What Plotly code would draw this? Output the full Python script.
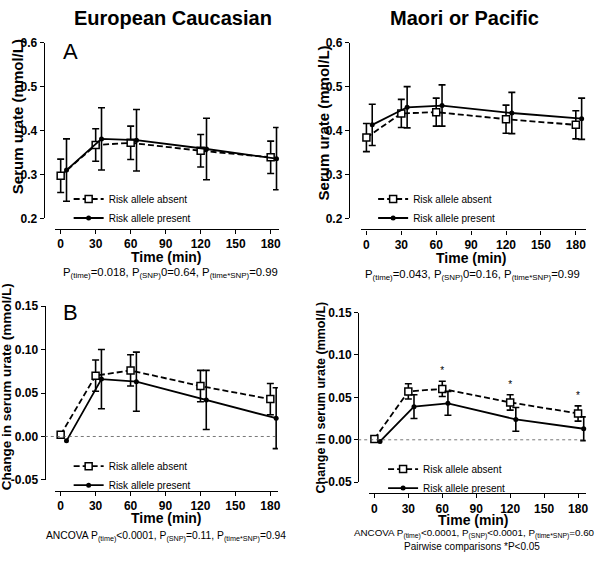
import numpy as np
import plotly.graph_objects as go

# temps de prélèvement (min)
times = [0, 30, 60, 120, 180]

# Panel A : urate sérique (mmol/L)
euro_absent = [0.297, 0.367, 0.372, 0.354, 0.339]
euro_absent_err = [0.038, 0.037, 0.038, 0.037, 0.037]
euro_present = [0.310, 0.381, 0.378, 0.358, 0.336]
euro_present_err = [0.071, 0.071, 0.070, 0.070, 0.071]

maori_absent = [0.384, 0.439, 0.442, 0.426, 0.413]
maori_absent_err = [0.032, 0.032, 0.032, 0.032, 0.032]
maori_present = [0.413, 0.453, 0.457, 0.440, 0.427]
maori_present_err = [0.047, 0.047, 0.047, 0.047, 0.047]

# Panel B : variation de l'urate sérique (mmol/L)
euro_absent_chg = [0.002, 0.070, 0.076, 0.058, 0.043]
euro_absent_chg_err = [np.nan, 0.018, 0.018, 0.018, 0.018]
euro_present_chg = [-0.005, 0.066, 0.063, 0.042, 0.021]
euro_present_chg_err = [np.nan, 0.034, 0.034, 0.034, 0.035]

maori_absent_chg = [0.001, 0.057, 0.060, 0.044, 0.031]
maori_absent_chg_err = [np.nan, 0.009, 0.009, 0.009, 0.009]
maori_present_chg = [-0.002, 0.039, 0.043, 0.024, 0.013]
maori_present_chg_err = [np.nan, 0.014, 0.014, 0.014, 0.014]

# comparaisons significatives (*)
star_times = [60, 120, 180]
star_y = [0.081, 0.064, 0.051]

a_ticks = [0.2, 0.3, 0.4, 0.5, 0.6]
a_ticktext = ["0.2", "0.3", "0.4", "0.5", "0.6"]
b_ticks = [-0.05, 0.0, 0.05, 0.10, 0.15]
b_ticktext = ["-0.05", "0.00", "0.05", "0.10", "0.15"]
x_ticks = [0, 30, 60, 90, 120, 150, 180]

W, H = 600, 564
FONT = "Arial, Liberation Sans, sans-serif"
DODGE = 5  # décalage des points "present"


def px(v):
    return v / W


def py(v):
    return 1 - v / H


fig = go.Figure()

panels = [
    # (suffixe, absent, err, present, err, legende)
    ("", euro_absent, euro_absent_err, euro_present, euro_present_err, "legend"),
    ("2", maori_absent, maori_absent_err, maori_present, maori_present_err, "legend2"),
    ("3", euro_absent_chg, euro_absent_chg_err, euro_present_chg, euro_present_chg_err, "legend3"),
    ("4", maori_absent_chg, maori_absent_chg_err, maori_present_chg, maori_present_chg_err, "legend4"),
]

for suf, ab, ab_err, pr, pr_err, leg in panels:
    fig.add_trace(go.Scatter(
        x=times, y=ab, xaxis="x" + suf, yaxis="y" + suf,
        mode="lines+markers", name="Risk allele absent", legend=leg,
        line=dict(color="black", width=1.8, dash="6px,3px"),
        marker=dict(symbol="square", size=7, color="white", line=dict(color="black", width=1.5)),
        error_y=dict(type="data", array=np.array(ab_err, dtype=float), color="black", thickness=1.6, width=3.5),
        cliponaxis=False,
    ))
    fig.add_trace(go.Scatter(
        x=[t + DODGE for t in times], y=pr, xaxis="x" + suf, yaxis="y" + suf,
        mode="lines+markers", name="Risk allele present", legend=leg,
        line=dict(color="black", width=1.8),
        marker=dict(symbol="circle", size=5, color="black"),
        error_y=dict(type="data", array=np.array(pr_err, dtype=float), color="black", thickness=1.6, width=3.5),
        cliponaxis=False,
    ))

fig.add_trace(go.Scatter(
    x=star_times, y=star_y, xaxis="x4", yaxis="y4", mode="text", text=["*"] * len(star_times),
    textfont=dict(family=FONT, size=10, color="black"), showlegend=False, cliponaxis=False,
))

# géométrie des 4 sous-graphiques (en pixels)
geo = {
    "": dict(xd=(55, 280), xr=(-5.1, 186.8), yd=(216.7, 36.7), yr=(0.2, 0.6), ypos=44, xpos=227.5),
    "2": dict(xd=(363, 589), xr=(-4.5, 188.8), yd=(216.7, 36.7), yr=(0.2, 0.6), ypos=350.7, xpos=228),
    "3": dict(xd=(55, 279.3), xr=(-5.1, 186.5), yd=(485, 306.7), yr=(-0.05, 0.15), ypos=45, xpos=496),
    "4": dict(xd=(370.7, 588.7), xr=(-4.9, 186.8), yd=(487.3, 313.3), yr=(-0.05, 0.15), ypos=360, xpos=498.3),
}

axis_style = dict(showline=True, linecolor="black", linewidth=1.4, ticks="outside", ticklen=4,
                  tickwidth=1.4, tickcolor="black", showgrid=False, zeroline=False,
                  tickfont=dict(family=FONT, size=12, color="black", weight="bold"))

layout = {}
for suf, g in geo.items():
    a_or_b = suf in ("", "2")
    layout["xaxis" + suf] = dict(axis_style, domain=[px(g["xd"][0]), px(g["xd"][1])], range=list(g["xr"]),
                                 anchor="free", position=py(g["xpos"]), tickvals=x_ticks)
    layout["yaxis" + suf] = dict(axis_style, domain=[py(g["yd"][0]), py(g["yd"][1])], range=list(g["yr"]),
                                 anchor="free", position=px(g["ypos"]),
                                 tickvals=a_ticks if a_or_b else b_ticks,
                                 ticktext=a_ticktext if a_or_b else b_ticktext)
fig.update_layout(**layout)

# légendes
leg_style = dict(font=dict(family=FONT, size=10, color="black"), bgcolor="rgba(0,0,0,0)",
                 xanchor="left", yanchor="top", tracegroupgap=0, itemwidth=30)
fig.update_layout(
    legend=dict(leg_style, x=px(69), y=py(182)),
    legend2=dict(leg_style, x=px(375), y=py(182)),
    legend3=dict(leg_style, x=px(69), y=py(456)),
    legend4=dict(leg_style, x=px(385), y=py(459)),
)

# ligne pointillée à zéro (panel B)
for suf in ("3", "4"):
    g = geo[suf]
    fig.add_shape(type="line", xref="paper", yref="y" + suf, x0=px(g["ypos"]), x1=px(g["xd"][1]), y0=0, y1=0,
                  line=dict(color="#555555", width=0.8, dash="dot"))

ann = []


def txt(x, y, text, size, bold=False, angle=0):
    ann.append(dict(x=px(x), y=py(y), xref="paper", yref="paper", text=text, showarrow=False, textangle=angle,
                    xanchor="center", yanchor="middle",
                    font=dict(family=FONT, size=size, color="black", weight="bold" if bold else "normal")))


txt(174, 11, "European Caucasian", 20, bold=True)
txt(467, 11, "Maori or Pacific", 20, bold=True)
txt(71, 46, "A", 22)
txt(71, 313, "B", 22)

txt(17, 112, "Serum urate (mmol/L)", 15, bold=True, angle=-90)
txt(325, 119, "Serum urate (mmol/L)", 15, bold=True, angle=-90)
txt(6, 389, "Change in serum urate (mmol/L)", 13.5, bold=True, angle=-90)
txt(323, 400, "Change in serum urate (mmol/L)", 12.5, bold=True, angle=-90)

txt(167, 256.5, "Time (min)", 14, bold=True)
txt(474, 257.5, "Time (min)", 14, bold=True)
txt(167, 524.5, "Time (min)", 14, bold=True)
txt(476, 526, "Time (min)", 14, bold=True)

txt(171, 273, "P<sub>(time)</sub>=0.018, P<sub>(SNP)</sub>0=0.64, P<sub>(time*SNP)</sub>=0.99", 11.3)
txt(475, 275, "P<sub>(time)</sub>=0.043, P<sub>(SNP)</sub>0=0.16, P<sub>(time*SNP)</sub>=0.99", 11.3)
txt(167, 543, "ANCOVA P<sub>(time)</sub><0.0001, P<sub>(SNP)</sub>=0.11, P<sub>(time*SNP)</sub>=0.94", 10.3)
txt(477, 540, "ANCOVA P<sub>(time)</sub><0.0001, P<sub>(SNP)</sub><0.0001, P<sub>(time*SNP)</sub>=0.60", 9.8)
txt(474, 553.5, "Pairwise comparisons *P<0.05", 10)

fig.update_layout(
    annotations=ann,
    width=W, height=H,
    margin=dict(l=0, r=0, t=0, b=0),
    paper_bgcolor="white", plot_bgcolor="white",
)

# pas de marge autour de la page
fig.write_html("out.html", config={"displayModeBar": False},
               post_script="document.body.style.margin='0';")
